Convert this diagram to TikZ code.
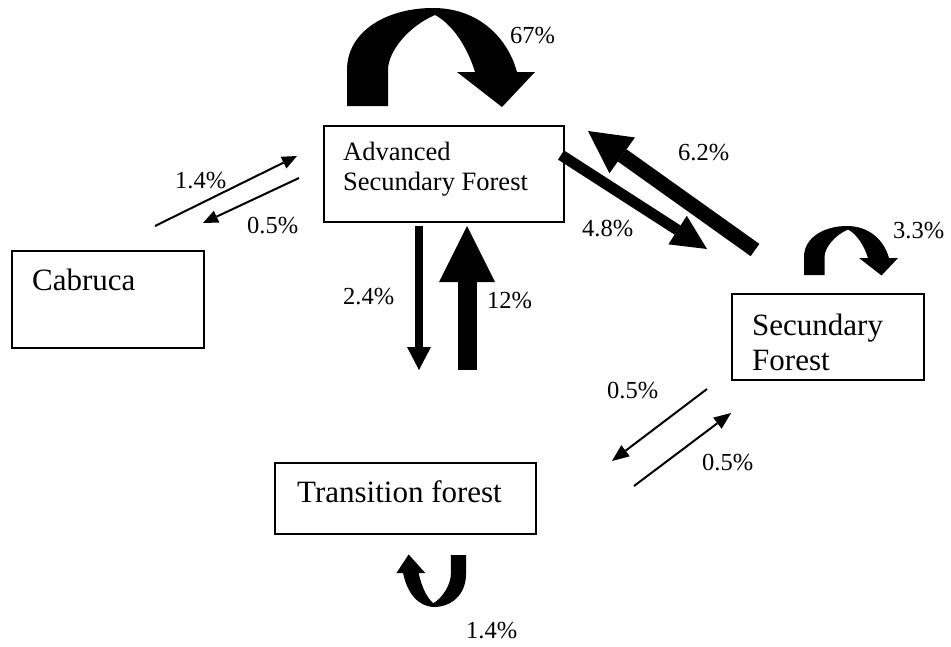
\documentclass[tikz,border=0pt]{standalone}
\usepackage{fontspec}
\setmainfont{Liberation Serif}
\usetikzlibrary{arrows.meta}
\begin{document}
\begin{tikzpicture}[x=1pt,y=-1pt]
\tikzset{
 box/.style={draw, line width=1.8pt, inner sep=0pt, anchor=north west},
 bigtxt/.style={font=\fontsize{31}{35}\selectfont, anchor=base west, inner sep=0pt},
 midtxt/.style={font=\fontsize{26.5}{30}\selectfont, anchor=base west, inner sep=0pt},
 pct/.style={font=\fontsize{24.5}{28}\selectfont, anchor=base west, inner sep=0pt},
 flow/.style n args={3}{line width=#1pt, -{Triangle[width=#2pt,length=#3pt,line width=0pt]}},
 looparrow/.pic={\fill (0,0) -- (0,-36) .. controls (0,-75) and (40,-98) .. (86,-98)
   .. controls (130,-98) and (160,-70) .. (170,-34) -- (188,-34) -- (155,1) -- (110,-34) -- (128,-34)
   .. controls (120,-60) and (105,-82) .. (88,-91) .. controls (62,-80) and (41,-55) .. (41,-36)
   -- (41,0) -- cycle;}
}
\useasboundingbox (0,0) rectangle (951,646);

% boxes
\node[box, minimum width=240pt, minimum height=96pt] (asf) at (323,125) {};
\node[box, minimum width=192pt, minimum height=97pt] (cab) at (11,250) {};
\node[box, minimum width=192pt, minimum height=86pt] (sf) at (731,293) {};
\node[box, minimum width=261pt, minimum height=71pt] (tf) at (274,462) {};

% box texts
\node[midtxt] (asf1) at (343,160) {Advanced};
\node[midtxt] (asf2) at (343,190) {Secundary Forest};
\node[bigtxt] (cabt) at (32,290) {Cabruca};
\node[bigtxt] (sf1) at (752,335) {Secundary};
\node[bigtxt] (sf2) at (752,370) {Forest};
\node[bigtxt] (tft) at (297,502) {Transition forest};

% arrow end points
\coordinate (c2aS) at (155,226); \coordinate (c2aE) at (297,156);
\coordinate (a2cS) at (299,178); \coordinate (a2cE) at (203,223);
\coordinate (a2tS) at (419,226); \coordinate (a2tE) at (419,370);
\coordinate (t2aS) at (467,370); \coordinate (t2aE) at (467,226);
\coordinate (a2sS) at (561,155); \coordinate (a2sE) at (707,249);
\coordinate (s2aS) at (755,250); \coordinate (s2aE) at (588,131);
\coordinate (s2tS) at (707,389); \coordinate (s2tE) at (612,461);
\coordinate (t2sS) at (634,486); \coordinate (t2sE) at (731,413);

% straight arrows
\draw[flow={2}{13}{15}] (c2aS) -- (c2aE);
\draw[flow={2}{13}{15}] (a2cS) -- (a2cE);
\draw[flow={8}{24}{23}] (a2tS) -- (a2tE);
\draw[flow={19}{56}{56}] (t2aS) -- (t2aE);
\draw[flow={11}{34}{35}] (a2sS) -- (a2sE);
\draw[flow={15}{44}{42}] (s2aS) -- (s2aE);
\draw[flow={2}{14}{17}] (s2tS) -- (s2tE);
\draw[flow={2}{14}{17}] (t2sS) -- (t2sE);

% self loops
\pic at (347,106) {looparrow};
\pic[scale=0.5] at (804,275) {looparrow};
\pic[xscale=-0.37,yscale=-0.53] at (466,555) {looparrow};

% labels
\node[pct] (l67) at (510,43) {67\%};
\node[pct] (l14a) at (175,188) {1.4\%};
\node[pct] (l05a) at (247,233) {0.5\%};
\node[pct] (l24) at (343,304) {2.4\%};
\node[pct] (l12) at (487,308) {12\%};
\node[pct] (l62) at (678,160) {6.2\%};
\node[pct] (l48) at (582,236) {4.8\%};
\node[pct] (l33) at (893,238) {3.3\%};
\node[pct] (l05b) at (607,398) {0.5\%};
\node[pct] (l05c) at (702,470) {0.5\%};
\node[pct] (l14b) at (466,638) {1.4\%};
\end{tikzpicture}
\end{document}
